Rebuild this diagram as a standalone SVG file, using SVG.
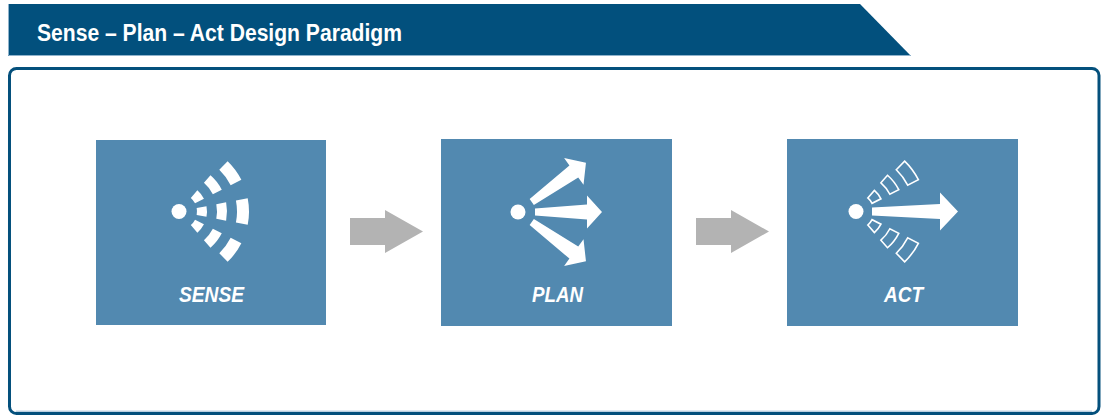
<svg xmlns="http://www.w3.org/2000/svg" xmlns:xlink="http://www.w3.org/1999/xlink" width="1101" height="416" viewBox="0 0 1101 416">
<style>
.title{font-family:"Liberation Sans Narrow","Liberation Sans",Arial,sans-serif;font-weight:bold;font-size:24.5px;fill:#ffffff}
.node rect{fill:#5289B0}
.lbl{font-family:"Liberation Sans Narrow","Liberation Sans",Arial,sans-serif;font-weight:bold;font-style:italic;font-size:22.5px;fill:#ffffff;text-anchor:middle}
.ico{fill:#ffffff}
.outl{fill:none;stroke:#ffffff;stroke-width:1.6;stroke-linejoin:miter}
.conn{fill:#B3B3B3}
</style>
<defs>
<path id="segIT" d="M 11.81 -13.58 L 18.37 -21.13 A 28 28 0 0 1 24.95 -12.71 L 16.04 -8.17 A 18 18 0 0 0 11.81 -13.58 Z"/>
<path id="segIM" d="M 17.67 -3.43 L 27.48 -5.34 A 28 28 0 0 1 27.48 5.34 L 17.67 3.43 A 18 18 0 0 0 17.67 -3.43 Z"/>
<path id="segIB" d="M 11.81 13.58 L 18.37 21.13 A 28 28 0 0 0 24.95 12.71 L 16.04 8.17 A 18 18 0 0 1 11.81 13.58 Z"/>
<path id="segMT" d="M 24.93 -28.68 L 31.49 -36.23 A 48 48 0 0 1 42.77 -21.79 L 33.86 -17.25 A 38 38 0 0 0 24.93 -28.68 Z"/>
<path id="segMM" d="M 37.30 -7.25 L 47.12 -9.16 A 48 48 0 0 1 47.12 9.16 L 37.30 7.25 A 38 38 0 0 0 37.30 -7.25 Z"/>
<path id="segMB" d="M 24.93 28.68 L 31.49 36.23 A 48 48 0 0 0 42.77 21.79 L 33.86 17.25 A 38 38 0 0 1 24.93 28.68 Z"/>
<path id="segOT" d="M 40.29 -41.72 L 48.63 -50.35 A 70 70 0 0 1 62.37 -31.78 L 51.68 -26.33 A 58 58 0 0 0 40.29 -41.72 Z"/>
<path id="segOM" d="M 56.93 -11.07 L 68.71 -13.36 A 70 70 0 0 1 68.71 13.36 L 56.93 11.07 A 58 58 0 0 0 56.93 -11.07 Z"/>
<path id="segOB" d="M 40.29 41.72 L 48.63 50.35 A 70 70 0 0 0 62.37 31.78 L 51.68 26.33 A 58 58 0 0 1 40.29 41.72 Z"/>
<path id="planArrow" d="M 17 -3.6 L 69 -7.5 L 69 -16.5 L 84 0 L 69 16.5 L 69 7.5 L 17 3.6 Z"/>
<path id="grayArrow" d="M 0 0 L 35 0 L 35 -8 L 73 13.5 L 35 35 L 35 27 L 0 27 Z"/>
</defs>

<g id="header">
<polygon points="8,4 860,4 911,56 8,56" fill="#02507D"/>
<polyline points="8.5,4 8.5,55.5 911,55.5" fill="none" stroke="#8FB3CC" stroke-width="1"/>
<text class="title" x="37" y="40.5" textLength="365" lengthAdjust="spacingAndGlyphs">Sense – Plan – Act Design Paradigm</text>
</g>

<g id="frame">
<rect x="9.5" y="68.5" width="1089.5" height="345" rx="7" ry="7" fill="#ffffff" stroke="#04507C" stroke-width="3"/>
<line x1="16" y1="411.2" x2="1092" y2="411.2" stroke="#9DBBD2" stroke-width="1"/>
</g>

<g id="connectors">
<use xlink:href="#grayArrow" href="#grayArrow" class="conn" transform="translate(350,218)"/>
<use xlink:href="#grayArrow" href="#grayArrow" class="conn" transform="translate(696,218)"/>
</g>

<g id="sense" class="node">
<rect x="96" y="140" width="230" height="185"/>
<g class="ico" transform="translate(179,211.5)">
<circle cx="0" cy="0" r="7.5"/>
<use xlink:href="#segIT" href="#segIT"/>
<use xlink:href="#segIM" href="#segIM"/>
<use xlink:href="#segIB" href="#segIB"/>
<use xlink:href="#segMT" href="#segMT"/>
<use xlink:href="#segMM" href="#segMM"/>
<use xlink:href="#segMB" href="#segMB"/>
<use xlink:href="#segOT" href="#segOT"/>
<use xlink:href="#segOM" href="#segOM"/>
<use xlink:href="#segOB" href="#segOB"/>
</g>
<text class="lbl" x="211.5" y="302" textLength="65" lengthAdjust="spacingAndGlyphs">SENSE</text>
</g>

<g id="plan" class="node">
<rect x="441" y="139" width="231" height="187"/>
<g class="ico" transform="translate(518,212)">
<circle cx="0" cy="0" r="7.5"/>
<use xlink:href="#planArrow" href="#planArrow"/>
<use xlink:href="#planArrow" href="#planArrow" transform="rotate(-36)"/>
<use xlink:href="#planArrow" href="#planArrow" transform="rotate(36)"/>
</g>
<text class="lbl" x="557.5" y="302" textLength="51" lengthAdjust="spacingAndGlyphs">PLAN</text>
</g>

<g id="act" class="node">
<rect x="787" y="139" width="231" height="187"/>
<g transform="translate(856,211.5)">
<circle class="ico" cx="0" cy="0" r="7.5"/>
<path class="ico" d="M 16 -4 L 84 -7.5 L 84 -19 L 102 0 L 84 19 L 84 7.5 L 16 4 Z"/>
<g class="outl">
<use xlink:href="#segIT" href="#segIT"/>
<use xlink:href="#segIB" href="#segIB"/>
<use xlink:href="#segMT" href="#segMT"/>
<use xlink:href="#segMB" href="#segMB"/>
<use xlink:href="#segOT" href="#segOT"/>
<use xlink:href="#segOB" href="#segOB"/>
</g>
</g>
<text class="lbl" x="903.5" y="302" textLength="39" lengthAdjust="spacingAndGlyphs">ACT</text>
</g>
</svg>
